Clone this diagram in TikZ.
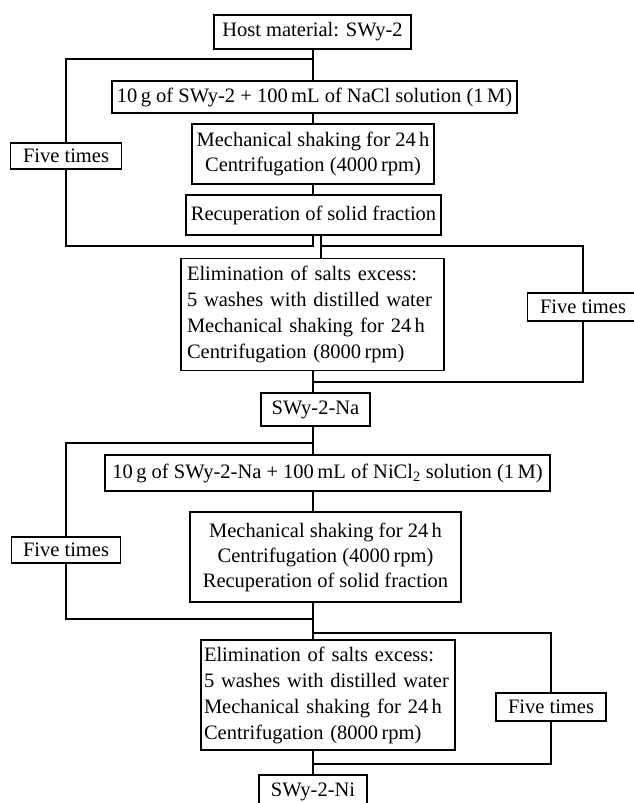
\documentclass[tikz,border=0pt]{standalone}
\usepackage{fontspec}
\setmainfont{Liberation Serif}
\begin{document}
\begin{tikzpicture}[x=1pt,y=-1pt,
  every path/.style={line width=1.2pt},
  box/.style={draw, line width=1.2pt, inner sep=0pt, align=center,
    font=\fontsize{20.5}{25}\selectfont},
  lbox/.style={draw, line width=1.2pt, align=left,
    font=\fontsize{20.5}{26}\selectfont}]
\useasboundingbox (0,0) rectangle (634,803);
% section 1
\node[box, minimum width=197pt, minimum height=34pt] (host) at (312.5,32) {Host material: SWy-2};
\node[box, minimum width=405pt, minimum height=32pt] (nacl) at (314.5,97) {10\,g of SWy-2 + 100\,mL of NaCl solution (1\,M)};
\node[box, minimum width=242pt, minimum height=60pt] (mechA) at (313,154) {Mechanical shaking for 24\,h\\Centrifugation (4000\,rpm)};
\node[box, minimum width=255pt, minimum height=40pt] (recup) at (313.5,215) {Recuperation of solid fraction};
\node[box, minimum width=111pt, minimum height=26pt] (ftA) at (66,156) {Five times};
\node[lbox, text width=251pt, inner sep=6pt, minimum height=112pt] (elimA) at (312.5,314.5) {Elimination of salts excess:\\5 washes with distilled water\\Mechanical shaking for 24\,h\\Centrifugation (8000\,rpm)};
\node[box, minimum width=111pt, minimum height=28pt] (ftB) at (583,307) {Five times};
\node[box, minimum width=109pt, minimum height=33pt] (na) at (315.5,409.5) {SWy-2-Na};
% section 2
\node[box, minimum width=445pt, minimum height=36pt] (nicl) at (327.5,473) {10\,g of SWy-2-Na + 100\,mL of NiCl\textsubscript{2} solution (1\,M)};
\node[box, minimum width=271pt, minimum height=90pt] (mechB) at (325.5,557) {Mechanical shaking for 24\,h\\Centrifugation (4000\,rpm)\\Recuperation of solid fraction};
\node[box, minimum width=109pt, minimum height=26pt] (ftC) at (66,550) {Five times};
\node[lbox, text width=248pt, inner sep=3pt, minimum height=110pt] (elimB) at (328,695) {Elimination of salts excess:\\5 washes with distilled water\\Mechanical shaking for 24\,h\\Centrifugation (8000\,rpm)};
\node[box, minimum width=110pt, minimum height=28pt] (ftD) at (551,707) {Five times};
\node[box, minimum width=108pt, minimum height=33pt] (ni) at (313,791.5) {SWy-2-Ni};
% junction coordinates
\coordinate (tA) at (313,59);
\coordinate (bA) at (313,246);
\coordinate (cA) at (321,246);
\coordinate (dA) at (313,382);
\coordinate (tB) at (313,443);
\coordinate (bB) at (313,619);
\coordinate (cB) at (313,633);
\coordinate (dB) at (313,764);
% connectors section 1
\draw (host.south -| tA) -- (nacl.north -| tA);
\draw (tA) -| (ftA.north);
\draw (nacl.south -| tA) -- (mechA.north -| tA);
\draw (mechA.south -| tA) -- (recup.north -| tA);
\draw (ftA.south) |- (bA) -- (recup.south -| bA);
\draw (recup.south -| cA) -- (elimA.north -| cA);
\draw (cA) -| (ftB.north);
\draw (ftB.south) |- (dA);
\draw (elimA.south -| dA) -- (na.north -| dA);
% connectors section 2
\draw (na.south -| tB) -- (nicl.north -| tB);
\draw (tB) -| (ftC.north);
\draw (nicl.south -| tB) -- (mechB.north -| tB);
\draw (ftC.south) |- (bB);
\draw (mechB.south -| tB) -- (elimB.north -| tB);
\draw (cB) -| (ftD.north);
\draw (ftD.south) |- (dB);
\draw (elimB.south -| dB) -- (ni.north -| dB);
\end{tikzpicture}
\end{document}
